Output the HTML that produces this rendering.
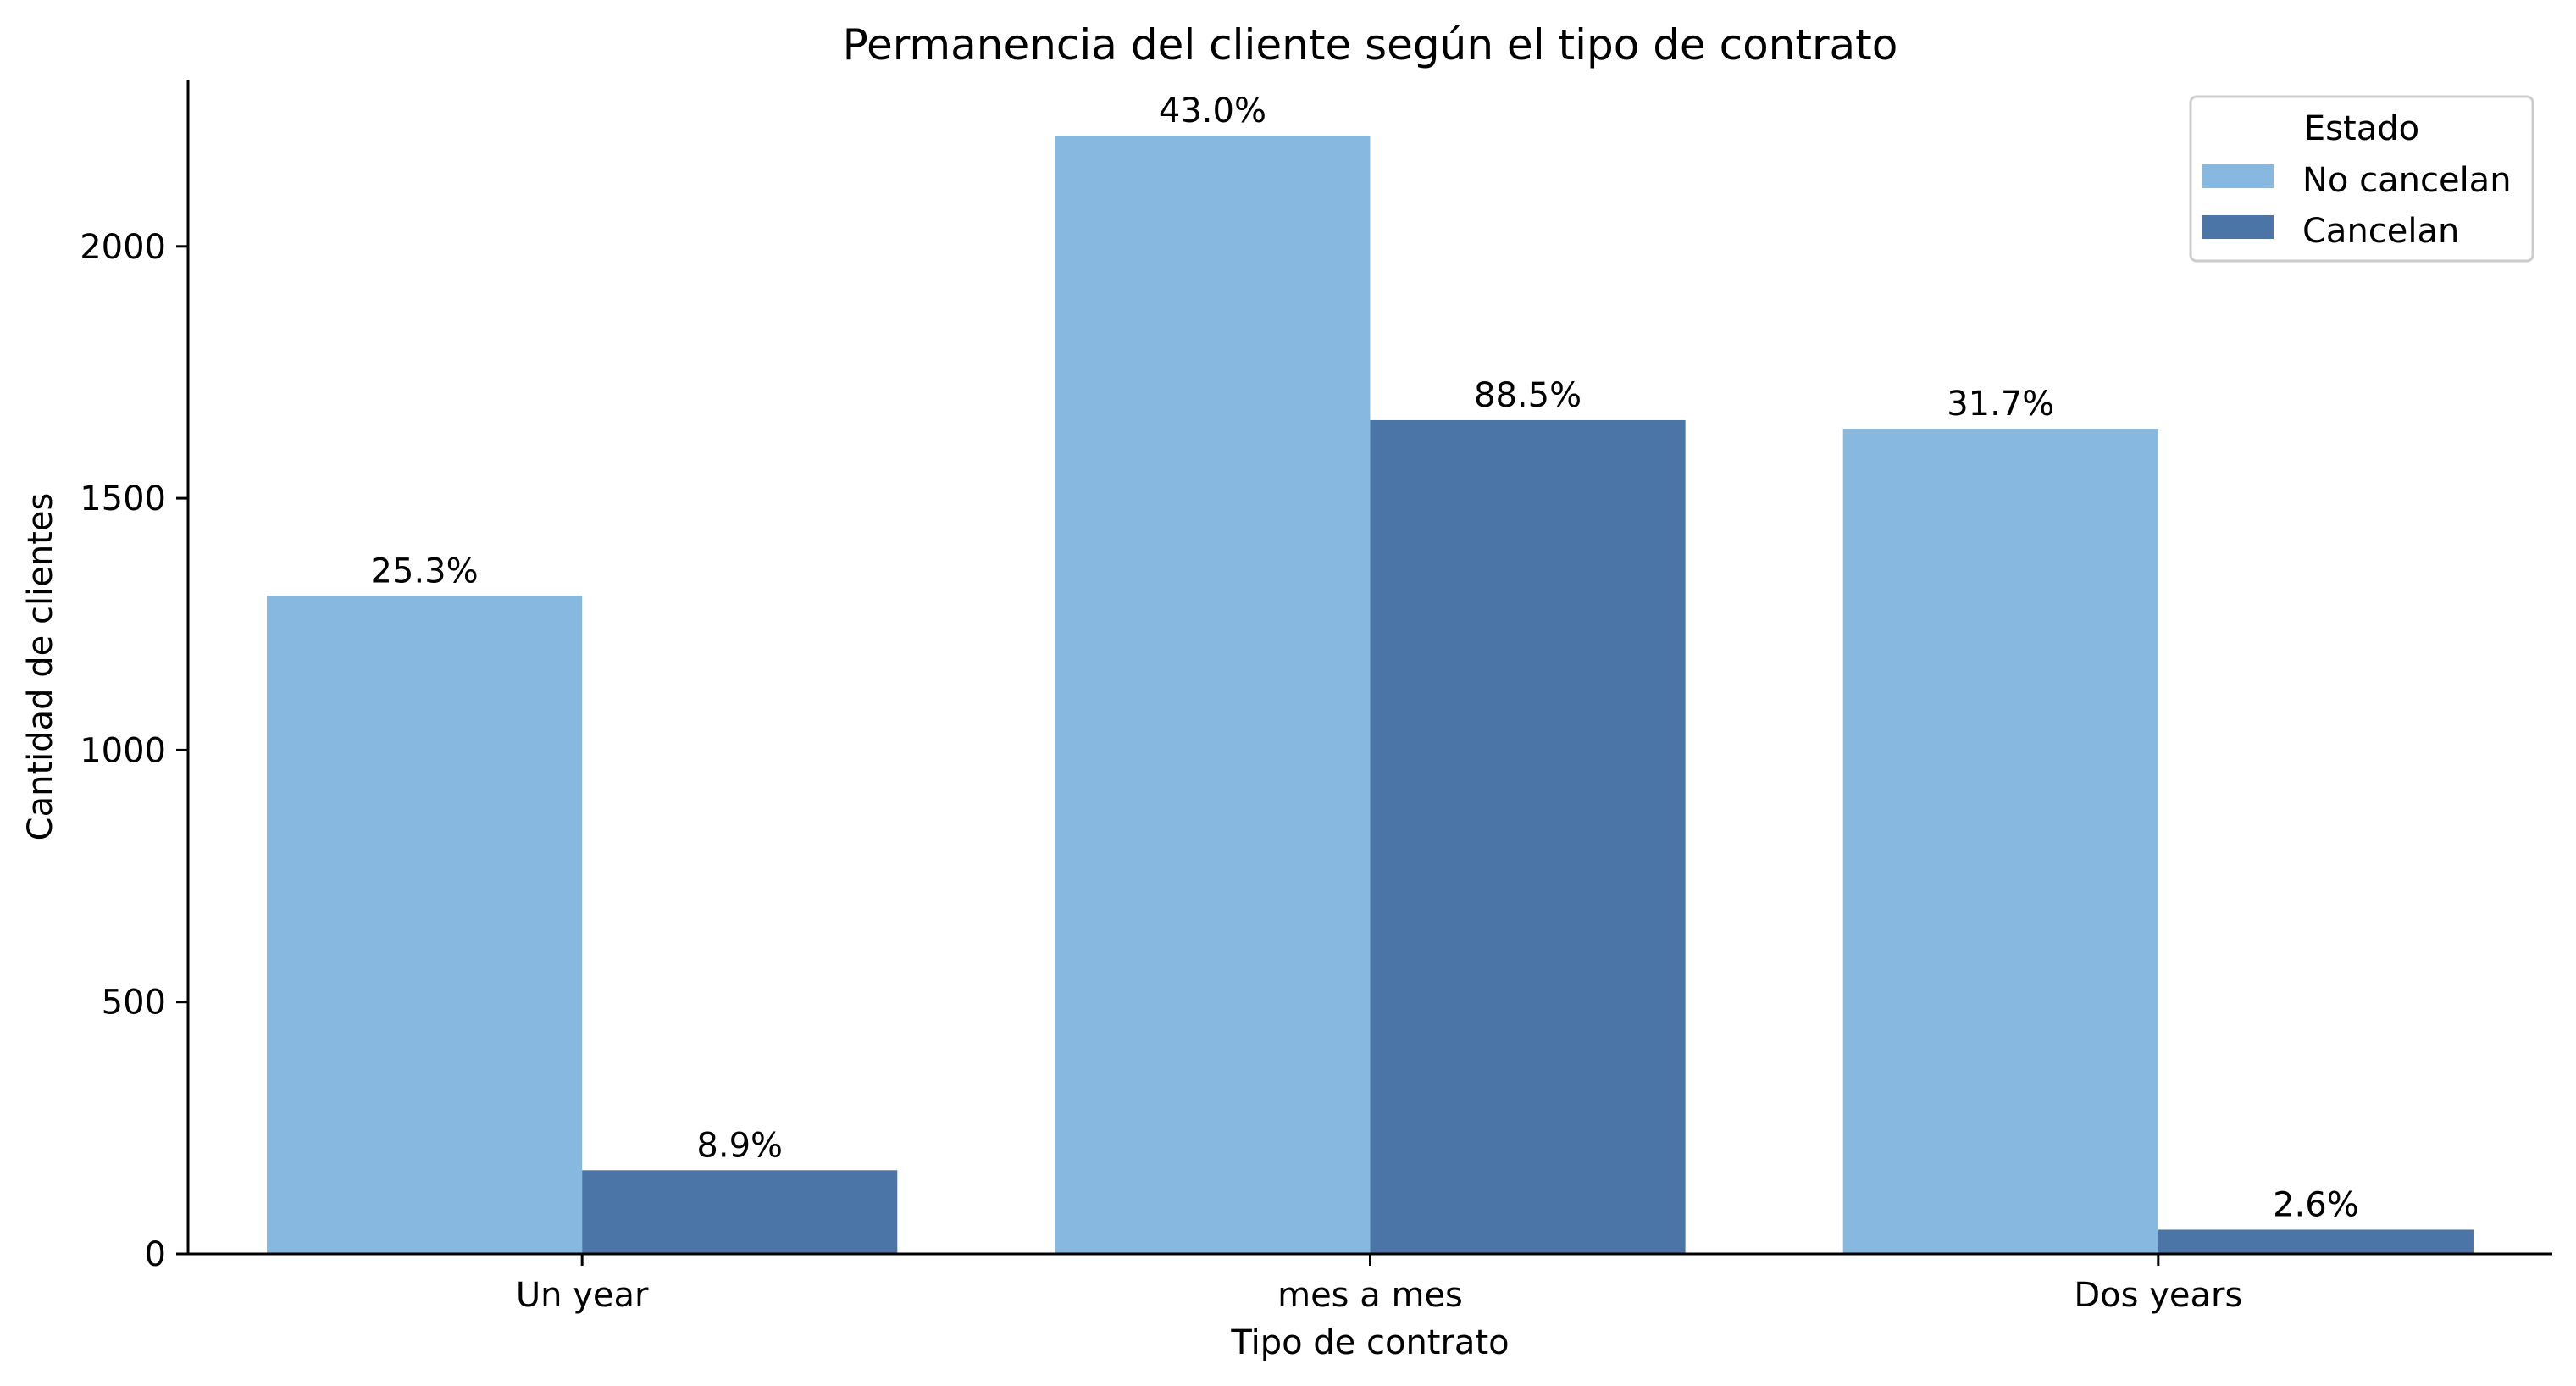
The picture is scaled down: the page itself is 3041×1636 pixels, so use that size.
<!DOCTYPE html>
<html><head><meta charset="utf-8">
<style>
html,body{margin:0;padding:0;background:#fff;}
svg{display:block;font-family:"DejaVu Sans","Liberation Sans",sans-serif;}
</style></head>
<body>
<svg id="chart" width="3041" height="1636" viewBox="0 0 3041 1636" xmlns="http://www.w3.org/2000/svg">
<rect width="3041" height="1636" fill="#fff"/>
<g id="plot"></g>
</svg>
<script>
const categories = ["Un year", "mes a mes", "Dos years"];
const noCancelan = [1306, 2220, 1638];
const cancelan = [166, 1655, 48];
const pctNo = ["25.3%", "43.0%", "31.7%"];
const pctSi = ["8.9%", "88.5%", "2.6%"];
const yTicks = [0, 500, 1000, 1500, 2000];

const NS = "http://www.w3.org/2000/svg";
const svg = document.getElementById('chart');
const g = document.getElementById('plot');
const L = 222, R = 3013, B = 1480, T = 94;
const yMax = 2331;
const y = v => B - v / yMax * (B - T);
const step = (R - L) / categories.length;
const xc = i => L + step * (i + 0.5);
const bw = step * 0.4;

function mk(tag, attrs, parent) {
  const e = document.createElementNS(NS, tag);
  for (const k in attrs) e.setAttribute(k, attrs[k]);
  (parent || g).appendChild(e);
  return e;
}
function txt(s, attrs, parent) { const e = mk('text', attrs, parent); e.textContent = s; return e; }

categories.forEach((c, i) => {
  const b1 = mk('rect', {x: xc(i) - bw, y: y(noCancelan[i]), width: bw, height: B - y(noCancelan[i]), fill: '#87b9e0'});
  
  
  const b2 = mk('rect', {x: xc(i), y: y(cancelan[i]), width: bw, height: B - y(cancelan[i]), fill: '#4b75a6'});
  
  
  const t1 = txt(pctNo[i], {x: xc(i) - bw / 2, y: y(noCancelan[i]) - 16, 'font-size': 40, 'text-anchor': 'middle'});
  
  
  const t2 = txt(pctSi[i], {x: xc(i) + bw / 2, y: y(cancelan[i]) - 16, 'font-size': 40, 'text-anchor': 'middle'});
  
  
  const tk = mk('line', {x1: xc(i), x2: xc(i), y1: B, y2: B + 14, stroke: '#000', 'stroke-width': 3});
  
  
  const tl = txt(c, {x: xc(i), y: 1542, 'font-size': 40, 'text-anchor': 'middle'});
  
  
});

yTicks.forEach(v => {
  const tk = mk('line', {x1: L - 14, x2: L, y1: y(v), y2: y(v), stroke: '#000', 'stroke-width': 3});
  
  
  const tl = txt(String(v), {x: L - 26, y: y(v) + 14, 'font-size': 40, 'text-anchor': 'end'});
  
  
});

const ax = mk('line', {x1: L, x2: L, y1: T, y2: B + 1.5, stroke: '#000', 'stroke-width': 3});


const bx = mk('line', {x1: L - 1.5, x2: R, y1: B, y2: B, stroke: '#000', 'stroke-width': 3});



const title = txt('Permanencia del cliente según el tipo de contrato', {x: (L + R) / 2, y: 70, 'font-size': 50, 'text-anchor': 'middle'});


const xl = txt('Tipo de contrato', {x: (L + R) / 2, y: 1598, 'font-size': 40, 'text-anchor': 'middle'});


const yl = txt('Cantidad de clientes', {x: 0, y: 0, 'font-size': 40, 'text-anchor': 'middle', transform: 'translate(61,' + ((T + B) / 2) + ') rotate(-90)'});



// legend
const lg = mk('g', {});


mk('rect', {x: 2586, y: 114, width: 404, height: 194, rx: 7, fill: '#fff', 'fill-opacity': 0.8, stroke: '#cccccc', 'stroke-width': 3}, lg);
const lt = txt('Estado', {x: 2788, y: 165, 'font-size': 40, 'text-anchor': 'middle'}, lg);


const e1 = mk('g', {}, lg);


mk('rect', {x: 2600, y: 194, width: 84, height: 28, fill: '#87b9e0'}, e1);
txt('No cancelan', {x: 2718, y: 226, 'font-size': 40}, e1);
const e2 = mk('g', {}, lg);


mk('rect', {x: 2600, y: 254, width: 84, height: 28, fill: '#4b75a6'}, e2);
txt('Cancelan', {x: 2718, y: 286, 'font-size': 40}, e2);
</script>
</body></html>
